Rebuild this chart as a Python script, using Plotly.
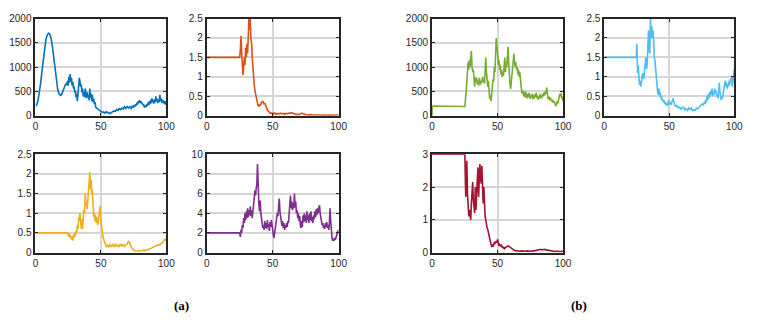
import plotly.graph_objects as go

# ---- data ----
blue_t = [0, 1, 2, 3, 4, 5, 6, 7, 8, 9,
          10, 11, 12, 13, 14, 15, 16, 17, 18, 19,
          20, 21, 22, 23, 24,
          24.5, 25, 25.5, 26, 26.5, 27, 27.5, 28, 28.5, 29,
          29.5, 30, 30.5, 31, 31.5, 32, 32.5, 33, 33.5, 34,
          34.5, 35, 35.5, 36, 36.5, 37, 37.5, 38, 38.5, 39,
          39.5, 40, 40.5, 41, 41.5, 42, 42.5, 43, 43.5, 44,
          44.5, 45, 45.5, 46,
          47, 48, 49, 50, 51, 52, 53, 54, 55, 56,
          57, 58, 59, 60, 61, 62, 63, 64, 65, 66,
          67, 68, 69, 70, 71, 72, 73, 74, 75,
          75.5, 76, 76.5, 77, 77.5, 78, 78.5, 79, 79.5, 80,
          80.5, 81, 81.5, 82, 82.5, 83, 83.5, 84, 84.5, 85,
          85.5, 86, 86.5, 87, 87.5, 88, 88.5, 89, 89.5, 90,
          90.5, 91, 91.5, 92, 92.5, 93, 93.5, 94, 94.5, 95,
          95.5, 96, 96.5, 97, 97.5, 98, 98.5, 99, 99.5, 100]
blue_v = [200, 230, 320, 470, 680, 930, 1180, 1400, 1570, 1665,
          1700, 1675, 1580, 1410, 1170, 920, 700, 540, 450, 420,
          440, 500, 580, 650, 640,
          720, 620, 800, 680, 860, 700, 780, 620, 700, 560,
          600, 480, 520, 380, 450, 300, 420, 560, 780, 700,
          600, 640, 480, 560, 400, 480, 380, 560, 420, 360,
          480, 380, 420, 320, 560, 380, 450, 300, 430, 280,
          350, 240, 280, 180,
          150, 130, 110, 90, 70, 80, 55, 85, 60, 70,
          45, 65, 80, 100, 90, 130, 110, 145, 125, 160,
          140, 185, 150, 190, 160, 185, 150, 200, 170,
          220, 190, 240, 210, 270, 230, 300, 260, 320, 270,
          300, 250, 270, 220, 240, 190, 170, 210, 180, 240,
          200, 270, 220, 300, 240, 330, 260, 360, 280, 320,
          250, 340, 280, 400, 300, 350, 260, 330, 280, 430,
          300, 360, 270, 330, 260, 310, 240, 300, 230, 260]

orange_t = [0, 25,
            25.5, 26, 26.5, 27, 27.5, 28, 28.5, 29, 29.5, 30,
            30.5, 31, 31.5, 32, 32.5, 33, 33.5, 34, 34.5, 35,
            35.5, 36, 36.5, 37, 37.5, 38, 38.5, 39, 39.5, 40,
            40.5, 41, 41.5, 42, 42.5, 43, 43.5, 44, 44.5, 45,
            45.5, 46, 46.5, 47, 47.5, 48, 48.5, 49, 49.5, 50,
            50.5, 51, 51.5, 52,
            53, 54, 55, 56, 57, 58, 59, 60, 61, 62,
            63, 64, 65, 66, 67, 68, 69, 70, 71, 72,
            73, 74, 75, 76, 77, 78, 79, 80, 81, 82,
            83, 84, 85, 86, 87, 88, 89, 90, 91, 92,
            93, 94, 95, 96, 97, 98, 99, 100]
orange_v = [1.5, 1.5,
            1.7, 2.05, 1.6, 1.3, 1.05, 1.25, 1.5, 1.3, 1.75, 1.5,
            1.85, 1.6, 2.0, 2.5, 2.2, 2.5, 2.0, 1.85, 1.5, 1.2,
            1.0, 0.8, 0.65, 0.55, 0.45, 0.4, 0.3, 0.25, 0.27, 0.24,
            0.3, 0.28, 0.36, 0.33, 0.38, 0.35, 0.3, 0.33, 0.27, 0.22,
            0.18, 0.15, 0.12, 0.1, 0.09, 0.08, 0.06, 0.07, 0.05, 0.06,
            0.05, 0.07, 0.05, 0.06,
            0.04, 0.06, 0.05, 0.07, 0.05, 0.06, 0.04, 0.06, 0.05, 0.07,
            0.06, 0.08, 0.07, 0.05, 0.04, 0.03, 0.04, 0.03, 0.05, 0.07,
            0.05, 0.03, 0.03, 0.02, 0.03, 0.02, 0.03, 0.02, 0.02, 0.03,
            0.02, 0.02, 0.03, 0.02, 0.02, 0.01, 0.02, 0.02, 0.01, 0.02,
            0.02, 0.01, 0.02, 0.01, 0.02, 0.02, 0.01, 0.02]

yellow_t = [0, 24.5,
            25, 25.5, 26, 26.5, 27, 27.5, 28, 28.5, 29, 29.5,
            30, 30.5, 31, 31.5, 32, 32.5, 33, 33.5, 34, 34.5,
            35, 35.5, 36, 36.5, 37, 37.5, 38, 38.5, 39, 39.5,
            40, 40.5, 41, 41.5, 42, 42.5, 43, 43.5, 44, 44.5,
            45, 45.5, 46, 46.5, 47, 47.5, 48, 48.5, 49, 49.5,
            50, 50.5, 51, 51.5, 52, 52.5, 53, 53.5, 54,
            55, 56, 57, 58, 59, 60, 61, 62, 63, 64,
            65, 66, 67, 68, 69, 70, 71, 72, 73, 74,
            75, 76, 77, 78, 79, 80, 81, 82, 83, 84,
            85, 86, 87, 88, 89, 90, 91, 92, 93, 94,
            95, 96, 97, 98, 99, 100]
yellow_v = [0.5, 0.5,
            0.45, 0.4, 0.48, 0.38, 0.42, 0.33, 0.4, 0.3, 0.45, 0.38,
            0.5, 0.42, 0.55, 0.5, 0.7, 0.6, 0.9, 0.8, 1.0, 0.75,
            0.6, 0.85, 0.6, 0.9, 1.1, 1.0, 1.5, 1.2, 1.3, 1.1,
            1.35, 1.5, 1.7, 2.05, 1.6, 1.85, 1.5, 1.6, 1.2, 0.9,
            1.0, 0.8, 0.95, 0.75, 0.9, 0.7, 0.8, 1.0, 1.1, 1.18,
            0.8, 0.6, 0.5, 0.42, 0.35, 0.28, 0.22, 0.18, 0.15,
            0.18, 0.14, 0.2, 0.15, 0.2, 0.14, 0.22, 0.16, 0.19, 0.14,
            0.22, 0.17, 0.2, 0.15, 0.2, 0.22, 0.28, 0.25, 0.15, 0.08,
            0.05, 0.04, 0.05, 0.04, 0.05, 0.04, 0.05, 0.05, 0.06, 0.05,
            0.07, 0.08, 0.09, 0.1, 0.12, 0.13, 0.15, 0.16, 0.18, 0.2,
            0.19, 0.23, 0.24, 0.28, 0.34, 0.3]

purple_t = [0, 25,
            25.5, 26, 26.5, 27, 27.5, 28, 28.5, 29, 29.5, 30,
            30.5, 31, 31.5, 32, 32.5, 33, 33.5, 34, 34.5, 35,
            35.5, 36, 36.5, 37, 37.5, 38, 38.5, 39, 39.5, 40,
            40.5, 41, 41.5, 42, 42.5, 43, 43.5, 44, 44.5, 45,
            45.5, 46, 46.5, 47, 47.5, 48, 48.5, 49, 49.5, 50,
            50.5, 51, 51.5, 52, 52.5, 53, 53.5, 54, 54.5, 55,
            55.5, 56, 56.5, 57, 57.5, 58, 58.5, 59, 59.5, 60,
            60.5, 61, 61.5, 62, 62.5, 63, 63.5, 64, 64.5, 65,
            65.5, 66, 66.5, 67, 67.5, 68, 68.5, 69, 69.5, 70,
            70.5, 71, 71.5, 72, 72.5, 73, 73.5, 74, 74.5, 75,
            75.5, 76, 76.5, 77, 77.5, 78, 78.5, 79, 79.5, 80,
            80.5, 81, 81.5, 82, 82.5, 83, 83.5, 84, 84.5, 85,
            85.5, 86, 86.5, 87, 87.5, 88, 88.5, 89, 89.5, 90,
            90.5, 91, 91.5, 92, 92.5, 93, 93.5, 94, 94.5, 95,
            95.5, 96, 96.5, 97, 97.5, 98, 98.5, 99, 99.5, 100]
purple_v = [2, 2,
            1.6, 2.3, 2.0, 2.8, 2.5, 3.5, 3.0, 4.0, 3.3, 4.2,
            3.5, 4.5, 3.6, 4.3, 3.8, 4.7, 3.7, 4.3, 3.5, 4.0,
            4.6, 5.5, 6.3, 5.8, 6.5, 7.0, 9.0, 6.0, 5.0, 4.2,
            5.3, 4.0, 3.5, 3.0, 2.5, 2.8, 2.3, 3.2, 2.5, 3.0,
            2.4, 3.3, 2.6, 2.9, 2.2, 3.1, 2.6, 3.3, 2.5, 2.2,
            1.8, 1.5, 2.0, 2.3, 3.0, 3.8, 4.0, 3.7, 4.3, 5.5,
            4.2, 3.5, 3.0, 2.7, 3.2, 2.5, 3.0, 2.3, 2.8, 2.5,
            3.0, 2.6, 3.2, 3.0, 4.0, 4.8, 5.8, 4.5, 5.2, 4.3,
            5.0, 4.5, 6.0, 4.6, 5.2, 4.0, 4.3, 3.5, 4.0, 3.2,
            3.7, 2.8, 2.5, 3.2, 2.6, 3.8, 3.1, 4.0, 3.2, 3.8,
            3.0, 4.2, 3.3, 3.8, 3.0, 4.0, 3.3, 4.2, 3.2, 3.6,
            3.0, 3.8, 3.4, 4.2, 3.6, 4.4, 3.8, 4.5, 4.0, 4.6,
            4.8, 4.0, 3.5, 3.2, 2.8, 3.0, 2.5, 2.8, 2.4, 3.0,
            2.6, 3.1, 2.5, 2.8, 2.3, 3.0, 4.5, 3.2, 2.0, 1.5,
            1.2, 1.4, 1.2, 1.5, 1.3, 1.6, 1.8, 2.0, 2.2, 2.3]

green_t = [0, 0.2, 25,
           25.5, 26, 26.5, 27, 27.5, 28, 28.5, 29, 29.5, 30,
           30.5, 31, 31.5, 32, 32.5, 33, 33.5, 34, 34.5, 35,
           35.5, 36, 36.5, 37, 37.5, 38, 38.5, 39, 39.5, 40,
           40.5, 41, 41.5, 42, 42.5, 43, 43.5, 44, 44.5, 45,
           45.5, 46, 46.5, 47, 47.5, 48, 48.5, 49, 49.5, 50,
           50.5, 51, 51.5, 52, 52.5, 53, 53.5, 54, 54.5, 55,
           55.5, 56, 56.5, 57, 57.5, 58, 58.5, 59, 59.5, 60,
           60.5, 61, 61.5, 62, 62.5, 63, 63.5, 64, 64.5, 65,
           65.5, 66, 66.5, 67, 67.5, 68, 68.5, 69, 69.5, 70,
           70.5, 71, 71.5, 72, 72.5, 73, 73.5, 74, 74.5, 75,
           75.5, 76, 76.5, 77, 77.5, 78, 78.5, 79, 79.5, 80,
           80.5, 81, 81.5, 82, 82.5, 83, 83.5, 84, 84.5, 85,
           85.5, 86, 86.5, 87, 87.5, 88, 88.5, 89, 89.5, 90,
           90.5, 91, 91.5, 92, 92.5, 93, 93.5, 94, 94.5, 95,
           95.5, 96, 96.5, 97, 97.5, 98, 98.5, 99, 99.5, 100]
green_v = [0, 200, 190,
           300, 500, 700, 900, 1100, 950, 1150, 1000, 1280, 1330,
           1000, 900, 950, 650, 600, 800, 700, 780, 650, 720,
           620, 780, 680, 640, 720, 680, 800, 700, 760, 660,
           900, 1200, 900, 680, 600, 720, 500, 350, 420, 300,
           450, 650, 750, 700, 1000, 900, 1350, 1600, 1400, 1300,
           1050, 1150, 950, 1050, 850, 950, 800, 900, 820, 1000,
           1200, 900, 1100, 1000, 1250, 1420, 1100, 800, 650, 550,
           700, 800, 950, 1150, 1280, 1100, 1000, 1100, 950, 1000,
           850, 950, 800, 900, 650, 600, 500, 450, 520, 400,
           480, 380, 500, 420, 360, 450, 380, 470, 400, 350,
           430, 380, 450, 340, 420, 360, 440, 380, 470, 360,
           420, 330, 400, 370, 450, 350, 420, 380, 450, 400,
           480, 420, 500, 450, 580, 420, 350, 400, 320, 380,
           330, 350, 290, 330, 270, 300, 250, 220, 200, 260,
           300, 250, 320, 380, 450, 400, 460, 350, 400, 300]

sky_t = [0, 24.6, 25, 25.3, 25.6, 26,
         26.5, 27, 27.5, 28, 28.5, 29, 29.5, 30, 30.5, 31,
         31.5, 32, 32.5, 33, 33.5, 34, 34.5, 35, 35.5, 36,
         36.5, 37, 37.5, 38, 38.5, 39, 39.5, 40, 40.5, 41,
         41.5, 42, 42.5, 43, 43.5, 44, 44.5, 45, 45.5, 46,
         46.5, 47, 47.5, 48, 48.5, 49, 49.5, 50, 50.5, 51,
         51.5, 52, 52.5, 53, 53.5, 54, 54.5, 55, 55.5, 56,
         57, 58, 59, 60, 61, 62, 63, 64, 65, 66,
         67, 68, 69, 70, 71, 72, 73, 74, 75, 76,
         77,
         77.5, 78, 78.5, 79, 79.5, 80, 80.5, 81, 81.5, 82,
         82.5, 83, 83.5, 84, 84.5, 85, 85.5, 86, 86.5, 87,
         87.5, 88, 88.5, 89, 89.5, 90, 90.5, 91, 91.5, 92,
         92.5, 93, 93.5, 94, 94.5, 95, 95.5, 96, 96.5, 97,
         97.5, 98, 98.5, 99, 99.5, 100]
sky_v = [1.5, 1.5, 1.85, 1.3, 1.1, 1.3,
         1.0, 0.8, 0.9, 0.75, 0.85, 1.0, 1.1, 0.95, 1.0, 1.2,
         1.4, 1.5, 1.2, 1.35, 1.8, 2.2, 1.7, 1.6, 2.5, 2.0,
         2.3, 2.0, 2.2, 1.6, 1.5, 1.4, 1.2, 0.9, 0.65, 0.6,
         0.55, 0.7, 0.5, 0.6, 0.45, 0.5, 0.38, 0.42, 0.35, 0.4,
         0.3, 0.35, 0.28, 0.32, 0.25, 0.35, 0.4, 0.3, 0.35, 0.28,
         0.3, 0.35, 0.4, 0.45, 0.35, 0.3, 0.25, 0.28, 0.22, 0.25,
         0.2, 0.22, 0.17, 0.2, 0.22, 0.15, 0.18, 0.14, 0.2, 0.16,
         0.2, 0.13, 0.15, 0.14, 0.2, 0.18, 0.22, 0.25, 0.3, 0.28,
         0.35,
         0.3, 0.4, 0.35, 0.5, 0.4, 0.55, 0.45, 0.6, 0.5, 0.65,
         0.55, 0.7, 0.5, 0.6, 0.55, 0.7, 0.6, 0.65, 0.5, 0.55,
         0.45, 0.6, 0.85, 0.6, 0.45, 0.4, 0.5, 0.45, 0.6, 0.7,
         0.8, 0.9, 0.75, 0.85, 0.7, 0.8, 0.75, 0.9, 0.8, 0.95,
         0.9, 1.0, 0.75, 0.95, 1.05, 1.2]

red_t = [0, 25, 25.3, 25.7, 26,
         26.5, 27, 27.5, 28, 28.5, 29, 29.5, 30, 30.5, 31,
         31.5, 32, 32.5, 33, 33.5, 34, 34.5, 35, 35.5, 36,
         36.5, 37, 37.5, 38, 38.5, 39, 39.5, 40, 40.5, 41,
         41.5, 42, 42.5, 43, 43.5, 44, 44.5, 45, 45.5, 46,
         46.5, 47, 47.5, 48, 48.5, 49, 49.5, 50, 50.5, 51,
         51.5, 52, 52.5, 53, 53.5, 54, 54.5, 55, 55.5,
         56, 57, 58, 59, 60, 61, 62, 63, 64, 65,
         66, 67, 68, 69, 70, 71, 72, 73, 74, 75,
         76, 77, 78, 79, 80, 81, 82, 83, 84, 85,
         86, 87, 88, 89, 90, 91, 92, 93, 94, 95,
         96, 97, 98, 99, 100]
red_v = [3, 3, 2.4, 1.7, 2.2,
         2.8, 1.8, 1.4, 1.1, 1.3, 1.05, 1.0, 1.5, 1.9, 2.15,
         1.6, 1.3, 1.2, 2.0, 1.3, 1.8, 2.2, 2.6, 1.7, 2.5,
         2.7, 2.3, 2.1, 2.65, 1.7, 1.5, 2.0, 1.3, 1.1, 1.0,
         0.8, 0.75, 0.7, 0.6, 0.45, 0.4, 0.3, 0.25, 0.2, 0.22,
         0.18, 0.25, 0.3, 0.28, 0.32, 0.35, 0.3, 0.4, 0.3, 0.2,
         0.25, 0.22, 0.2, 0.22, 0.15, 0.18, 0.12, 0.15, 0.12,
         0.15, 0.18, 0.2, 0.18, 0.15, 0.12, 0.08, 0.06, 0.05, 0.06,
         0.04, 0.05, 0.04, 0.05, 0.04, 0.05, 0.04, 0.05, 0.04, 0.05,
         0.04, 0.05, 0.05, 0.06, 0.05, 0.07, 0.08, 0.1, 0.08, 0.09,
         0.1, 0.08, 0.07, 0.06, 0.05, 0.04, 0.05, 0.04, 0.03, 0.04,
         0.03, 0.04, 0.03, 0.04, 0.03]

x_ticks = [0, 50, 100]
sub_labels = ["(a)", "(b)"]

# panel: (t, v, colour, y max, y step, box in pixels left, right, top, bottom)
panels = [
    (blue_t, blue_v, "#0072BD", 2000, 500, (33, 166, 13, 114)),
    (orange_t, orange_v, "#D95319", 2.5, 0.5, (207, 341, 13, 114)),
    (yellow_t, yellow_v, "#EDB120", 2.5, 0.5, (33, 166, 154, 256)),
    (purple_t, purple_v, "#7E2F8E", 10, 2, (207, 341, 154, 256)),
    (green_t, green_v, "#77AC30", 2000, 500, (436, 569, 13, 114)),
    (sky_t, sky_v, "#4DBEEE", 2.5, 0.5, (611, 743, 13, 114)),
    (red_t, red_v, "#A2142F", 3, 1, (436, 569, 154, 256)),
]

W, H = 760, 324
fig = go.Figure()
tick_font = dict(family="Liberation Sans, Arial, sans-serif", size=10, color="#262626")

for i, (t, v, col, ymax, ystep, box) in enumerate(panels, start=1):
    sfx = "" if i == 1 else str(i)
    fig.add_trace(go.Scatter(x=t, y=v, mode="lines",
                             line=dict(color=col, width=1.6),
                             xaxis="x" + sfx, yaxis="y" + sfx,
                             showlegend=False))
    l, r, tp, bt = box
    common = dict(showline=True, mirror="ticks", linecolor="#262626", linewidth=2,
                  ticks="inside", ticklen=3, tickcolor="#262626", tickwidth=1,
                  showgrid=True, gridcolor="#d6d6d6", gridwidth=1.5,
                  zeroline=False, tickfont=tick_font)
    fig.layout["xaxis" + sfx] = dict(
        domain=[l / W, r / W], anchor="y" + sfx, range=[0, 100],
        tickvals=x_ticks, **common)
    fig.layout["yaxis" + sfx] = dict(
        domain=[1 - bt / H, 1 - tp / H], anchor="x" + sfx, range=[0, ymax],
        dtick=ystep, tick0=0, **common)

for lab, cx in zip(sub_labels, [181, 585]):
    fig.add_annotation(x=cx / W, y=1 - 311 / H, xref="paper", yref="paper",
                       xanchor="center", yanchor="middle",
                       text="<b>" + lab + "</b>", showarrow=False,
                       font=dict(family="Liberation Serif, serif", size=13, color="black"))

fig.update_layout(width=W, height=H, autosize=False,
                  margin=dict(l=0, r=0, t=0, b=0),
                  paper_bgcolor="white", plot_bgcolor="white")

# page has an 8px body margin by default; drop it so the figure fills the window
fig.write_html("out.html", config={"displayModeBar": False},
               post_script="document.body.style.margin='0';"
                           "document.body.style.overflow='hidden';")
